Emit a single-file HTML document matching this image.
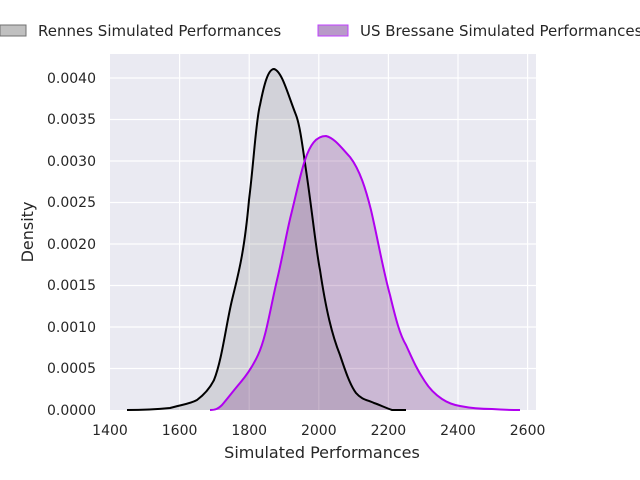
<!DOCTYPE html>
<html><head><style>body{margin:0;background:#fff}svg{display:block}</style></head>
<body>
<svg width="640" height="480" xmlns="http://www.w3.org/2000/svg" font-family="DejaVu Sans, Liberation Sans, sans-serif" fill="#262626">
<rect x="110" y="54" width="426" height="356" fill="#eaeaf2"/>
<g stroke="#fff" stroke-width="1.2">
<line x1="179.6" y1="54" x2="179.6" y2="410"/><line x1="249.2" y1="54" x2="249.2" y2="410"/><line x1="318.8" y1="54" x2="318.8" y2="410"/><line x1="388.4" y1="54" x2="388.4" y2="410"/><line x1="458" y1="54" x2="458" y2="410"/><line x1="527.6" y1="54" x2="527.6" y2="410"/>
<line x1="110" y1="368.5" x2="536" y2="368.5"/><line x1="110" y1="327" x2="536" y2="327"/><line x1="110" y1="285.5" x2="536" y2="285.5"/><line x1="110" y1="244" x2="536" y2="244"/><line x1="110" y1="202.5" x2="536" y2="202.5"/><line x1="110" y1="161" x2="536" y2="161"/><line x1="110" y1="119.5" x2="536" y2="119.5"/><line x1="110" y1="78" x2="536" y2="78"/>
</g>
<defs>
<path id="a" d="M127,410 C150,410 160,409 170,408 C180,405 190,404 197,400 C205,394 210,388 214,380 C222,360 226,325 232,300 C238,275 244,255 249,200 C254,160 256,120 260,105 C264,85 268,69 274,69 C282,71 288,95 296,115 C300,125 303,150 306,170 C312,210 316,250 320,270 C326,310 332,335 340,355 C345,370 350,385 356,393 C362,400 368,400 374,403 C380,405 386,408 392,410 L406,410"/>
<path id="b" d="M210,410 C215,410 218,409 222,405 C228,398 234,390 240,383 C246,376 252,368 258,355 C266,338 270,310 277,280 C283,255 286,235 291,215 C296,195 300,175 305,160 C310,145 316,136 326,136 C334,138 340,146 350,157 C360,170 366,190 371,210 C378,240 383,270 390,295 C396,320 400,335 406,345 C412,358 416,368 424,380 C430,390 436,395 442,399 C448,403 454,405 460,406 C470,408 480,409 492,409 C505,410 515,410 520,410"/>
</defs>
<use href="#a" fill="#000" fill-opacity="0.1"/>
<use href="#b" fill="#6e227a" fill-opacity="0.25"/>
<use href="#a" fill="none" stroke="#000" stroke-width="2"/>
<use href="#b" fill="none" stroke="#b000f0" stroke-width="2"/>
<g font-size="14" text-anchor="end">
<text x="96" y="415">0.0000</text><text x="96" y="373">0.0005</text><text x="96" y="332">0.0010</text><text x="96" y="290">0.0015</text><text x="96" y="249">0.0020</text><text x="96" y="207">0.0025</text><text x="96" y="166">0.0030</text><text x="96" y="124">0.0035</text><text x="96" y="83">0.0040</text>
</g>
<g font-size="14" text-anchor="middle">
<text x="110" y="435">1400</text><text x="179.6" y="435">1600</text><text x="249.2" y="435">1800</text><text x="318.8" y="435">2000</text><text x="388.4" y="435">2200</text><text x="458" y="435">2400</text><text x="527.6" y="435">2600</text>
</g>
<text x="322" y="458" font-size="16" text-anchor="middle">Simulated Performances</text>
<text transform="translate(33,232) rotate(-90)" font-size="16" text-anchor="middle">Density</text>
<rect x="0" y="25" width="26" height="11" fill="#c0c0c0" stroke="#707070"/>
<text x="38" y="36" font-size="15">Rennes Simulated Performances</text>
<rect x="318" y="25" width="30" height="11" fill="#b89ac8" stroke="#c040ff"/>
<text x="360" y="36" font-size="15">US Bressane Simulated Performances</text>
</svg>
</body></html>
